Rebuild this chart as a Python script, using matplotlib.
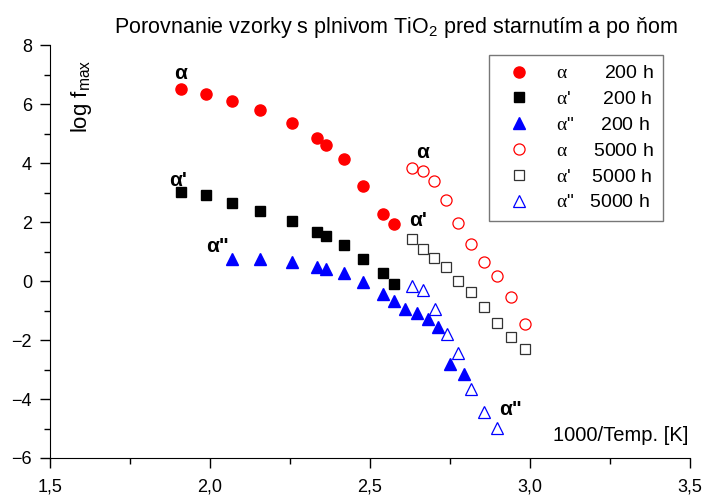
import matplotlib
matplotlib.use('Agg')
import matplotlib.pyplot as plt
from matplotlib.ticker import MultipleLocator

plt.rcParams['font.family'] = ['Liberation Sans', 'DejaVu Sans']
plt.rcParams['mathtext.fontset'] = 'custom'
plt.rcParams['mathtext.rm'] = 'Liberation Serif'

# 200 h (plné značky)
x_200 = [1.909, 1.988, 2.069, 2.156, 2.256, 2.334, 2.363, 2.419, 2.478, 2.541, 2.575]
alpha_200 = [6.51, 6.34, 6.10, 5.80, 5.36, 4.85, 4.61, 4.14, 3.22, 2.27, 1.93]
alpha1_200 = [3.02, 2.92, 2.64, 2.37, 2.03, 1.66, 1.53, 1.22, 0.75, 0.27, -0.10]

x_a2_200 = [2.069, 2.156, 2.256, 2.334, 2.363, 2.419, 2.478, 2.541, 2.575,
            2.609, 2.647, 2.681, 2.713, 2.750, 2.794]
alpha2_200 = [0.75, 0.75, 0.64, 0.47, 0.41, 0.27, -0.03, -0.44, -0.68,
              -0.95, -1.08, -1.29, -1.56, -2.81, -3.15]

# 5000 h (prázdne značky)
x_5000 = [2.631, 2.666, 2.700, 2.738, 2.775, 2.816, 2.856, 2.897, 2.941, 2.984]
alpha_5000 = [3.83, 3.73, 3.39, 2.75, 1.97, 1.25, 0.64, 0.17, -0.54, -1.46]
alpha1_5000 = [1.42, 1.08, 0.78, 0.47, 0.00, -0.37, -0.88, -1.42, -1.90, -2.31]

x_a2_5000 = [2.631, 2.666, 2.703, 2.741, 2.775, 2.816, 2.856, 2.897]
alpha2_5000 = [-0.17, -0.31, -0.95, -1.80, -2.44, -3.66, -4.44, -4.98]

xticks = [1.5, 2.0, 2.5, 3.0, 3.5]
xtick_labels = ['1,5', '2,0', '2,5', '3,0', '3,5']
yticks = [-6, -4, -2, 0, 2, 4, 6, 8]

# popisky pri krivkach
annotations = [
    ('α', 1.909, 7.05), ("α'", 1.90, 3.42), ('α"', 2.025, 1.19),
    ('α', 2.663, 4.37), ("α'", 2.65, 2.07), ('α"', 2.94, -4.37),
]

fig = plt.figure(figsize=(7.09, 4.97), dpi=100)
ax = fig.add_axes([0.0705, 0.0785, 0.9025, 0.8305])

A = r'$\mathrm{\alpha}$'
ax.plot(x_200, alpha_200, 'o', color='red', ms=8, mec='red',
        label=A + '       200 h')
ax.plot(x_200, alpha1_200, 's', color='black', ms=7.5,
        label=A + "'      200 h")
ax.plot(x_a2_200, alpha2_200, '^', color='blue', ms=8.5,
        label=A + '"     200 h')
ax.plot(x_5000, alpha_5000, 'o', mfc='none', mec='red', ms=8, mew=0.9,
        label=A + '     5000 h')
ax.plot(x_5000, alpha1_5000, 's', mfc='none', mec='#333333', ms=7, mew=0.9,
        label=A + "'    5000 h")
ax.plot(x_a2_5000, alpha2_5000, '^', mfc='none', mec='blue', ms=8.5, mew=0.9,
        label=A + '"   5000 h')

for txt, x, y in annotations:
    ax.text(x, y, txt, ha='center', va='center', fontsize=15, fontweight='bold')

ax.set_xlim(1.5, 3.5)
ax.set_ylim(-6, 8)
ax.set_xticks(xticks)
ax.set_xticklabels(xtick_labels)
ax.set_yticks(yticks)
ax.xaxis.set_minor_locator(MultipleLocator(0.25))
ax.yaxis.set_minor_locator(MultipleLocator(1))
ax.tick_params(which='major', direction='out', length=7, width=1, labelsize=13)
ax.tick_params(which='minor', direction='out', length=4, width=1)
ax.spines['top'].set_visible(False)
ax.spines['right'].set_visible(False)
ax.xaxis.set_tick_params(pad=8)
ax.yaxis.set_tick_params(pad=6)

ax.text(0.05, 0.965, r'log f$_\mathregular{max}$', transform=ax.transAxes,
        rotation=90, ha='center', va='top', fontsize=16)
ax.text(0.997, 0.055, '1000/Temp. [K]', transform=ax.transAxes,
        ha='right', va='center', fontsize=14.5)

fig.text(0.558, 0.945, r'Porovnanie vzorky s plnivom TiO$_\mathregular{2}$ pred starnutím a po ňom',
         ha='center', va='center', fontsize=15.5)

leg = ax.legend(loc='upper right', bbox_to_anchor=(0.958, 0.976), borderaxespad=0,
                fontsize=14, frameon=True, fancybox=False, edgecolor='#555555',
                handletextpad=0.9, labelspacing=0.42, borderpad=0.5)
leg.get_frame().set_linewidth(1)

fig.savefig('out.png', dpi=100)
